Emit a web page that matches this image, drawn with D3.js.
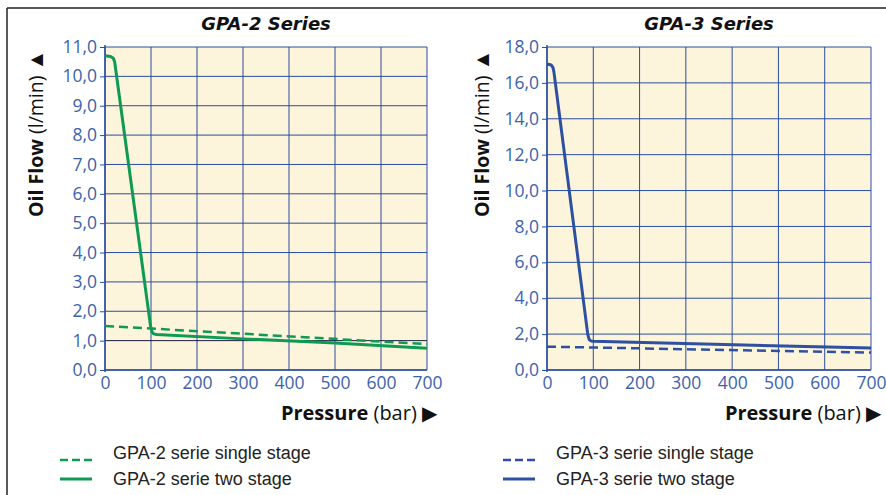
<!DOCTYPE html>
<html><head><meta charset="utf-8">
<script src="https://cdn.jsdelivr.net/npm/d3@7"></script>
<style>body{margin:0;background:#fff}svg{display:block}</style>
</head><body><svg id="c" width="886" height="495"></svg>
<script>
const pressureTicks = [0,100,200,300,400,500,600,700];
const gpa2Ticks = [0,1,2,3,4,5,6,7,8,9,10,11];
const gpa3Ticks = [0,2,4,6,8,10,12,14,16,18];
const gpa2Single = [[0,1.5],[700,0.88]];
const gpa2Two = [[0,10.7],[12,10.68],[18,10.62],[21,10.5],[99,1.5],[102,1.3],[106,1.23],[112,1.21],[300,1.06],[500,0.92],[700,0.74]];
const gpa3Single = [[0,1.3],[700,0.97]];
const gpa3Two = [[0,17.05],[9,17.0],[13,16.85],[15,16.6],[88,2.0],[91,1.7],[95,1.62],[100,1.6],[700,1.22]];

const svg = d3.select("#c");
const gridC = "#2a4d9e", tickC = "#3d62ac", bg = "#fdf4dc";
const green = "#0e9a52", blue = "#2d50a0";
const font = "'Open Sans', 'Noto Sans', sans-serif";

svg.append("line").attr("x1",7).attr("x2",886).attr("y1",8).attr("y2",8).attr("stroke","#222").attr("stroke-width",1.5);
svg.append("line").attr("x1",7).attr("x2",7).attr("y1",8).attr("y2",495).attr("stroke","#222").attr("stroke-width",1.5);

function panel(cfg){
  const x = d3.scaleLinear().domain([0,700]).range([cfg.x0,cfg.x1]);
  const y = d3.scaleLinear().domain([0,cfg.ymax]).range([370,47]);
  const g = svg.append("g");
  g.append("rect").attr("x",cfg.x0).attr("y",47).attr("width",cfg.x1-cfg.x0).attr("height",323).attr("fill",bg);
  g.selectAll(".vg").data(pressureTicks).join("line")
    .attr("x1",d=>x(d)).attr("x2",d=>x(d)).attr("y1",47).attr("y2",370)
    .attr("stroke",gridC).attr("stroke-width",1);
  g.selectAll(".hg").data(cfg.yticks).join("line")
    .attr("x1",cfg.x0).attr("x2",cfg.x1).attr("y1",d=>y(d)).attr("y2",d=>y(d))
    .attr("stroke",d=>cfg.darkLine===d?"#1a1a40":gridC).attr("stroke-width",1);
  g.append("line").attr("x1",cfg.x0).attr("x2",cfg.x0).attr("y1",45).attr("y2",372).attr("stroke",gridC).attr("stroke-width",1.5);
  g.append("line").attr("x1",cfg.x0).attr("x2",cfg.x1).attr("y1",370).attr("y2",370).attr("stroke",gridC).attr("stroke-width",1.5);
  const ya = d3.axisLeft(y).tickValues(cfg.yticks).tickSize(5).tickPadding(3)
    .tickFormat(d=>d3.format(".1f")(d).replace(".",","));
  const yg = g.append("g").attr("transform",`translate(${cfg.x0},0)`).call(ya);
  const xa = d3.axisBottom(x).tickValues(pressureTicks).tickSize(0).tickPadding(7);
  const xg = g.append("g").attr("transform",`translate(0,370)`).call(xa);
  [yg,xg].forEach(a=>{
    a.select(".domain").remove();
    a.selectAll("line").attr("stroke",gridC);
    a.selectAll("text").attr("fill",tickC).attr("font-size",17.5).attr("font-family",font);
  });
  const line = d3.line().x(d=>x(d[0])).y(d=>y(d[1]));
  g.append("path").attr("d",line(cfg.single)).attr("fill","none").attr("stroke",cfg.color).attr("stroke-width",2.5).attr("stroke-dasharray","9,5");
  g.append("path").attr("d",line(cfg.two)).attr("fill","none").attr("stroke",cfg.color).attr("stroke-width",3).attr("stroke-linejoin","round");
  svg.append("text").attr("x",(cfg.x0+cfg.x1)/2).attr("y",30).attr("text-anchor","middle")
    .attr("font-family","'DejaVu Sans', sans-serif").attr("font-weight","bold").attr("font-style","italic").attr("font-size",18).attr("fill","#111").text(cfg.title);
  const yl = svg.append("text").attr("transform",`translate(${cfg.yLabX},${cfg.yLabY}) rotate(-90)`)
    .attr("text-anchor","start").attr("font-family",font).attr("font-size",19.5).attr("fill","#111");
  yl.append("tspan").attr("font-weight","bold").text("Oil Flow ");
  yl.append("tspan").text("(l/min)  ");
  yl.append("tspan").attr("font-size",21).text("▲");
  const xl = svg.append("text").attr("x",cfg.x1+10).attr("y",420).attr("text-anchor","end")
    .attr("font-family",font).attr("font-size",20).attr("fill","#111");
  xl.append("tspan").attr("font-weight","bold").text("Pressure ");
  xl.append("tspan").text("(bar)   ");
  xl.append("tspan").attr("font-size",20).text("▶");
  const lg = svg.append("g").attr("transform",`translate(${cfg.legX},0)`);
  lg.append("line").attr("x1",0).attr("x2",32).attr("y1",460).attr("y2",460).attr("stroke",cfg.color).attr("stroke-width",2.5).attr("stroke-dasharray","8,4");
  lg.append("line").attr("x1",0).attr("x2",32).attr("y1",479).attr("y2",479).attr("stroke",cfg.color).attr("stroke-width",3);
  lg.append("text").attr("x",53).attr("y",459).attr("font-family","'Liberation Sans', Arial, sans-serif").attr("font-size",18).attr("fill","#222").text(cfg.l1);
  lg.append("text").attr("x",53).attr("y",485).attr("font-family","'Liberation Sans', Arial, sans-serif").attr("font-size",18).attr("fill","#222").text(cfg.l2);
}

panel({x0:105,x1:427,ymax:11,yticks:gpa2Ticks,darkLine:1,single:gpa2Single,two:gpa2Two,color:green,
  title:"GPA-2 Series",yLabX:43,yLabY:217,legX:60,l1:"GPA-2 serie single stage",l2:"GPA-2 serie two stage"});
panel({x0:547,x1:871,ymax:18,yticks:gpa3Ticks,darkLine:null,single:gpa3Single,two:gpa3Two,color:blue,
  title:"GPA-3 Series",yLabX:489,yLabY:217,legX:503,l1:"GPA-3 serie single stage",l2:"GPA-3 serie two stage"});
</script></body></html>
